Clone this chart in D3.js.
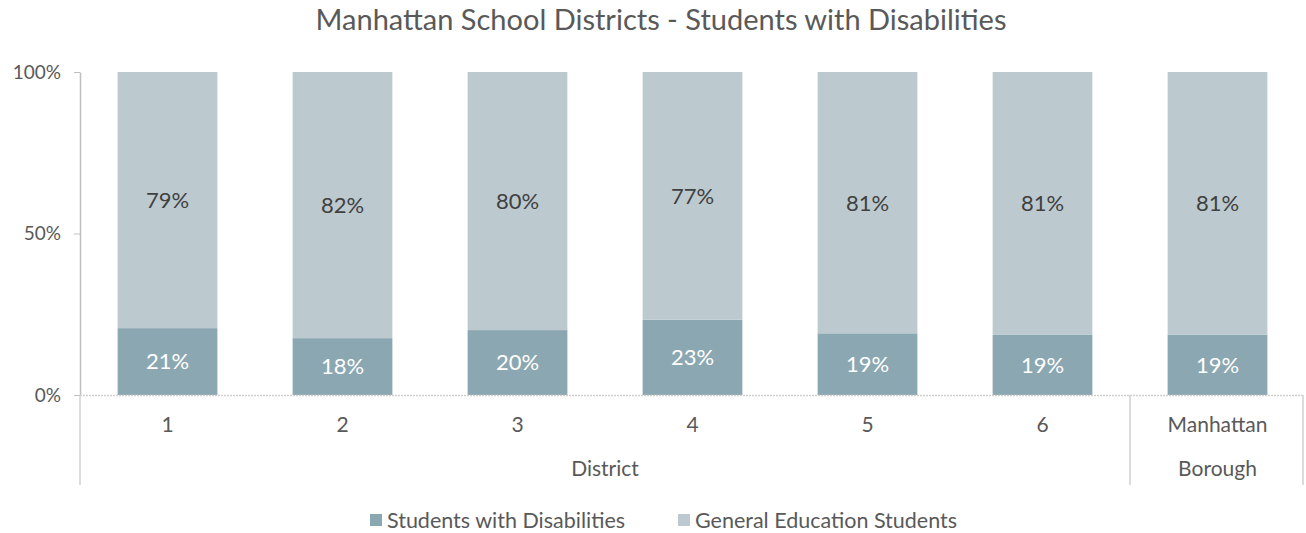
<!DOCTYPE html>
<html>
<head>
<meta charset="utf-8">
<script src="https://cdn.jsdelivr.net/npm/d3@7"></script>
<style>
  body { margin: 0; background: #fff; }
  text { font-family: Lato, "Noto Sans", sans-serif; }
</style>
</head>
<body>
<script>
(function () {
    'use strict';

    const width = 1306;
    const height = 533;
    const margin = {top: 72, left: 80, right: 1, bottom: 138};

    // data
    const categories = ['1', '2', '3', '4', '5', '6', 'Manhattan Borough'];
    const disabilities = [20.7, 17.6, 20.1, 23.3, 19.1, 18.6, 18.7];
    const generalEd = [79.3, 82.4, 79.9, 76.7, 80.9, 81.4, 81.3];
    const seriesNames = ['Students with Disabilities', 'General Education Students'];
    const yTicks = [0, 50, 100];

    const colors = ['#8ba7b1', '#bccad0'];
    const labelColors = ['#ffffff', '#404040'];

    const svg = d3.select('body')
        .append('svg')
        .attr('width', width)
        .attr('height', height);

    const x = d3.scaleBand()
        .domain(categories)
        .range([margin.left, width - margin.right])
        .paddingInner(0.43)
        .paddingOuter(0.215);

    const y = d3.scaleLinear()
        .domain([0, 100])
        .range([height - margin.bottom, margin.top]);

    const rows = categories.map((c, i) => ({cat: c, v: [disabilities[i], generalEd[i]]}));
    const stack = d3.stack().keys([0, 1]).value((d, k) => d.v[k]);
    const layers = stack(rows);

    svg.append('text')
        .attr('x', 661)
        .attr('y', 30)
        .attr('text-anchor', 'middle')
        .attr('font-size', 29)
        .attr('fill', '#595959')
        .text('Manhattan School Districts - Students with Disabilities');

    const layer = svg.selectAll('.layer')
        .data(layers)
        .enter().append('g')
        .attr('class', 'layer')
        .attr('fill', (d, i) => colors[i]);

    layer.selectAll('rect')
        .data(d => d)
        .enter().append('rect')
        .attr('x', d => x(d.data.cat))
        .attr('width', x.bandwidth())
        .attr('y', d => y(d[1]))
        .attr('height', d => y(d[0]) - y(d[1]));

    layers.forEach((l, i) => {
        svg.selectAll('.lbl' + i)
            .data(l)
            .enter().append('text')
            .attr('class', 'lbl' + i)
            .attr('x', d => x(d.data.cat) + x.bandwidth() / 2)
            .attr('y', d => (y(d[0]) + y(d[1])) / 2)
            .attr('dy', '0.36em')
            .attr('text-anchor', 'middle')
            .attr('font-size', 22)
            .attr('fill', labelColors[i])
            .text(d => Math.round(d[1] - d[0]) + '%');
    });

    // y axis
    const yAxis = svg.append('g')
        .attr('transform', `translate(${margin.left},0)`)
        .call(d3.axisLeft(y).tickValues(yTicks).tickSize(6).tickSizeOuter(0).tickFormat(d => d + '%'));
    yAxis.select('.domain').attr('stroke', '#bfbfbf').attr('stroke-width', 1.5);
    yAxis.selectAll('.tick line').attr('stroke', '#bfbfbf');
    yAxis.selectAll('.tick text')
        .attr('font-size', 19)
        .attr('fill', '#595959')
        .attr('x', -19)
        .style('font-family', 'Lato, "Noto Sans", sans-serif');

    const y0 = y(0);
    const bottom = 485;
    const gridColor = '#d0d0d0';

    // baseline
    svg.append('line')
        .attr('x1', margin.left).attr('x2', width - 3)
        .attr('y1', y0 + 0.5).attr('y2', y0 + 0.5)
        .attr('stroke', gridColor).attr('stroke-width', 1.5)
        .attr('stroke-dasharray', '2,1');

    // category group separators
    const step = x.step();
    const sepX = [margin.left, x('Manhattan Borough') - (step - x.bandwidth()) / 2, width - 3];
    svg.selectAll('.sep')
        .data(sepX)
        .enter().append('line')
        .attr('class', 'sep')
        .attr('x1', d => d).attr('x2', d => d)
        .attr('y1', y0).attr('y2', bottom)
        .attr('stroke', gridColor).attr('stroke-width', 1.5);

    const labelSize = 21;

    // category labels
    svg.selectAll('.cat')
        .data(categories.slice(0, 6))
        .enter().append('text')
        .attr('class', 'cat')
        .attr('x', d => x(d) + x.bandwidth() / 2)
        .attr('y', 432)
        .attr('text-anchor', 'middle')
        .attr('font-size', labelSize)
        .attr('fill', '#595959')
        .text(d => d);

    const boroX = x('Manhattan Borough') + x.bandwidth() / 2;
    svg.append('text')
        .attr('x', boroX).attr('y', 432)
        .attr('text-anchor', 'middle').attr('font-size', labelSize).attr('fill', '#595959')
        .text('Manhattan');
    svg.append('text')
        .attr('x', boroX).attr('y', 476)
        .attr('text-anchor', 'middle').attr('font-size', labelSize).attr('fill', '#595959')
        .text('Borough');
    svg.append('text')
        .attr('x', (sepX[0] + sepX[1]) / 2).attr('y', 476)
        .attr('text-anchor', 'middle').attr('font-size', labelSize).attr('fill', '#595959')
        .text('District');

    // legend
    const legendX = [370, 678];
    const legend = svg.selectAll('.legend')
        .data(seriesNames)
        .enter().append('g')
        .attr('class', 'legend')
        .attr('transform', (d, i) => `translate(${legendX[i]},520)`);
    legend.append('rect')
        .attr('x', 0).attr('y', -6)
        .attr('width', 12).attr('height', 12)
        .attr('fill', (d, i) => colors[i]);
    legend.append('text')
        .attr('x', 17).attr('y', 0)
        .attr('dy', '0.35em')
        .attr('font-size', 21.5)
        .attr('fill', '#595959')
        .text(d => d);
}());
</script>
</body>
</html>
